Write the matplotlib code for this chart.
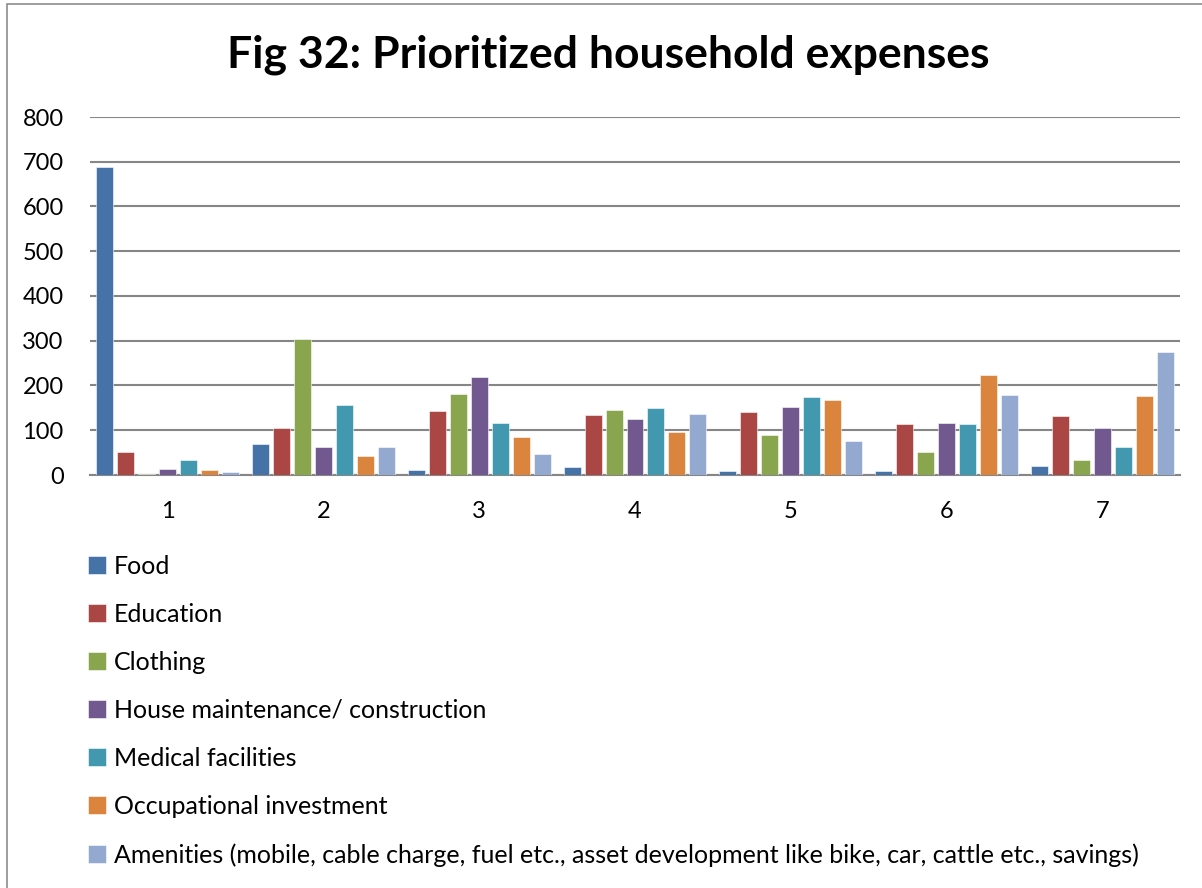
import numpy as np
import matplotlib.pyplot as plt
from matplotlib.patches import Rectangle

ranks = ["1", "2", "3", "4", "5", "6", "7"]
series_names = [
    "Food",
    "Education",
    "Clothing",
    "House maintenance/ construction",
    "Medical facilities",
    "Occupational investment",
    "Amenities (mobile, cable charge, fuel etc., asset development like bike, car, cattle etc., savings)",
]
food = [688, 70, 12, 17, 10, 8, 19]
education = [51, 106, 144, 135, 140, 113, 131]
clothing = [3, 303, 180, 146, 89, 51, 33]
house = [13, 62, 219, 126, 151, 116, 104]
medical = [33, 156, 116, 149, 174, 113, 63]
occupational = [12, 42, 84, 96, 167, 223, 177]
amenities = [6, 62, 48, 137, 75, 178, 274]
colors = ["#4572A7", "#AA4643", "#89A54E", "#71588F", "#4198AF", "#DB843D", "#93A9CF"]

W, H = 1202, 888
plt.rcParams["font.family"] = ["Lato", "DejaVu Sans"]
fig = plt.figure(figsize=(W / 100, H / 100), dpi=100)
fig.patches.append(Rectangle((7 / W, -0.1), 1.2, (H - 4) / H + 0.1, transform=fig.transFigure,
                             fill=False, edgecolor="#8c8c8c", linewidth=1.2))

ax = fig.add_axes([90 / W, (H - 475) / H, 1090 / W, 358 / H])
data = [food, education, clothing, house, medical, occupational, amenities]
x = np.arange(1, len(ranks) + 1)
step = 0.1346
bars = []
for i, (vals, c) in enumerate(zip(data, colors)):
    b = ax.bar(x + (i - 3) * step, vals, width=0.109, color=c, edgecolor="white",
               linewidth=0.4, zorder=3)
    bars.append(b)

ax.set_xlim(0.5, 7.5)
ax.set_ylim(0, 800)
ax.set_yticks(range(0, 801, 100))
ax.set_xticks(x)
ax.set_xticklabels(ranks)
ax.grid(True, axis="y", color="#868686", linewidth=1.5, zorder=0)
for s in ["top", "right", "left"]:
    ax.spines[s].set_visible(False)
ax.spines["bottom"].set_color("#868686")
ax.spines["bottom"].set_linewidth(1.5)
ax.tick_params(axis="y", length=0, labelsize=17, pad=19)
ax.tick_params(axis="x", length=0, labelsize=17, pad=19)

fig.text(608 / W, 1 - 55 / H, "Fig 32: Prioritized household expenses", ha="center", va="center",
         fontsize=32, fontweight="bold")

fig.legend(bars, series_names, loc="upper left", bbox_to_anchor=(88 / W, 1 - 555 / H),
           frameon=False, fontsize=18, labelspacing=1.0, handlelength=0.72, handleheight=0.72,
           handletextpad=0.3, borderaxespad=0, borderpad=0)

fig.savefig("out.png", dpi=100)
